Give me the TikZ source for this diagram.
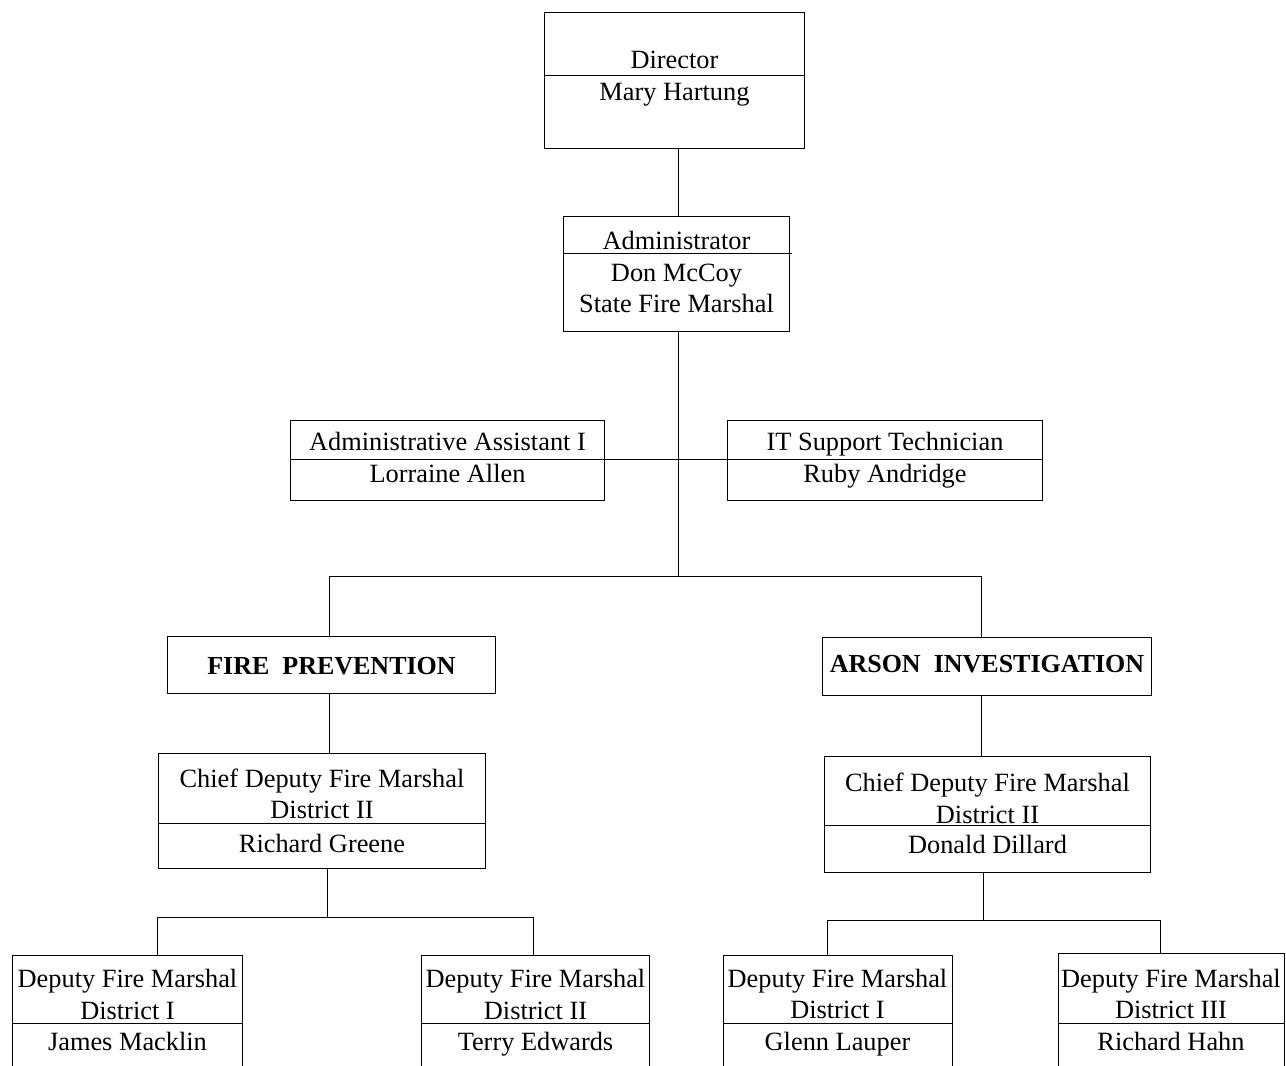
\documentclass[tikz,border=0pt]{standalone}
\usepackage{fontspec}
\setmainfont{Liberation Serif}
\usepackage{tikz}
\usetikzlibrary{positioning}

\begin{document}
\begin{tikzpicture}[x=0.02cm,y=-0.02cm,
    box/.style={draw,line width=0.55pt,inner sep=0pt},
    txt/.style={anchor=base,inner sep=0pt,font=\fontsize{15}{18}\selectfont},
    head/.style={anchor=base,inner sep=0pt,font=\fontsize{14.8}{18}\selectfont\bfseries},
    link/.style={line width=0.55pt}]
    \useasboundingbox (0,0) rectangle (1286,1066);
    \clip (0,0) rectangle (1286,1066);
    %%%%% THE BOXES
    \node[box,minimum width=5.22cm,minimum height=2.72cm] (dir) at (674.5,80) {};
    \node[box,minimum width=4.54cm,minimum height=2.30cm] (adm) at (676.5,273.5) {};
    \node[box,minimum width=6.30cm,minimum height=1.60cm] (asst) at (447.5,460) {};
    \node[box,minimum width=6.32cm,minimum height=1.60cm] (it) at (885,460) {};
    \node[box,minimum width=6.58cm,minimum height=1.14cm] (fp) at (331.5,664.5) {};
    \node[box,minimum width=6.60cm,minimum height=1.16cm] (ai) at (987,666) {};
    \node[box,minimum width=6.56cm,minimum height=2.30cm] (cdl) at (322,810.5) {};
    \node[box,minimum width=6.54cm,minimum height=2.32cm] (cdr) at (987.5,814) {};
    \node[box,minimum width=4.62cm,minimum height=2.90cm] (d1) at (127.5,1027.5) {};
    \node[box,minimum width=4.58cm,minimum height=2.90cm] (d2) at (535.5,1027.5) {};
    \node[box,minimum width=4.58cm,minimum height=2.90cm] (d3) at (837.5,1027.5) {};
    \node[box,minimum width=4.52cm,minimum height=2.94cm] (d4) at (1171,1026.5) {};
    % dividers inside the boxes
    \draw[link] (dir.west |- 0,75) -- (dir.east |- 0,75);
    \draw[link] (adm.west |- 0,253) -- ([xshift=0.04cm]adm.east |- 0,253);
    \draw[link] (asst.west |- 0,459) -- (it.east |- 0,459);
    \draw[link] (cdl.west |- 0,823) -- (cdl.east |- 0,823);
    \draw[link] (cdr.west |- 0,825) -- (cdr.east |- 0,825);
    \draw[link] (d1.west |- 0,1023) -- (d1.east |- 0,1023);
    \draw[link] (d2.west |- 0,1023) -- (d2.east |- 0,1023);
    \draw[link] (d3.west |- 0,1023) -- (d3.east |- 0,1023);
    \draw[link] (d4.west |- 0,1023) -- (d4.east |- 0,1023);
    %%%%% THE TEXTS
    \node[txt] (dir-a) at (dir.center |- 0,68) {Director};
    \node[txt] (dir-b) at (dir.center |- 0,100) {Mary Hartung};
    \node[txt] (adm-a) at (adm.center |- 0,249) {Administrator};
    \node[txt] (adm-b) at (adm.center |- 0,281) {Don McCoy};
    \node[txt] (adm-c) at (adm.center |- 0,312) {State Fire Marshal};
    \node[txt] (asst-a) at (asst.center |- 0,450) {Administrative Assistant I};
    \node[txt] (asst-b) at (asst.center |- 0,482) {Lorraine Allen};
    \node[txt] (it-a) at (it.center |- 0,450) {IT Support Technician};
    \node[txt] (it-b) at (it.center |- 0,482) {Ruby Andridge};
    \node[head] (fp-a) at (fp.center |- 0,674) {FIRE\ \ PREVENTION};
    \node[head] (ai-a) at (ai.center |- 0,672) {ARSON\ \ INVESTIGATION};
    \node[txt] (cdl-a) at (cdl.center |- 0,787) {Chief Deputy Fire Marshal};
    \node[txt] (cdl-b) at (cdl.center |- 0,818) {District II};
    \node[txt] (cdl-c) at (cdl.center |- 0,852) {Richard Greene};
    \node[txt] (cdr-a) at (cdr.center |- 0,791) {Chief Deputy Fire Marshal};
    \node[txt] (cdr-b) at (cdr.center |- 0,823) {District II};
    \node[txt] (cdr-c) at (cdr.center |- 0,853) {Donald Dillard};
    \node[txt] (d1-a) at (d1.center |- 0,987) {Deputy Fire Marshal};
    \node[txt] (d1-b) at (d1.center |- 0,1019) {District I};
    \node[txt] (d1-c) at (d1.center |- 0,1050) {James Macklin};
    \node[txt] (d2-a) at (d2.center |- 0,987) {Deputy Fire Marshal};
    \node[txt] (d2-b) at (d2.center |- 0,1019) {District II};
    \node[txt] (d2-c) at (d2.center |- 0,1050) {Terry Edwards};
    \node[txt] (d3-a) at (d3.center |- 0,987) {Deputy Fire Marshal};
    \node[txt] (d3-b) at (d3.center |- 0,1018) {District I};
    \node[txt] (d3-c) at (d3.center |- 0,1050) {Glenn Lauper};
    \node[txt] (d4-a) at (d4.center |- 0,987) {Deputy Fire Marshal};
    \node[txt] (d4-b) at (d4.center |- 0,1018) {District III};
    \node[txt] (d4-c) at (d4.center |- 0,1050) {Richard Hahn};
    %%%%% THE LINKS
    \coordinate (trunk) at (678,576);
    \coordinate (fpin) at (329,576);
    \coordinate (aiin) at (981,576);
    \coordinate (cdlout) at (327,917);
    \coordinate (cdrout) at (983,920);
    \draw[link] (dir.south -| trunk) -- (adm.north -| trunk);
    \draw[link] (adm.south -| trunk) -- (trunk);
    \draw[link] (fp.north -| fpin) -- (fpin) -- (aiin) -- (ai.north -| aiin);
    \draw[link] (fp.south -| fpin) -- (cdl.north -| fpin);
    \draw[link] (ai.south -| aiin) -- (cdr.north -| aiin);
    \draw[link] (cdl.south -| cdlout) -- (cdlout);
    \draw[link] (d1.north -| 157,0) |- (cdlout) -| (d2.north -| 533,0);
    \draw[link] (cdr.south -| cdrout) -- (cdrout);
    \draw[link] (d3.north -| 827,0) |- (cdrout) -| (d4.north -| 1160,0);
\end{tikzpicture}
\end{document}
